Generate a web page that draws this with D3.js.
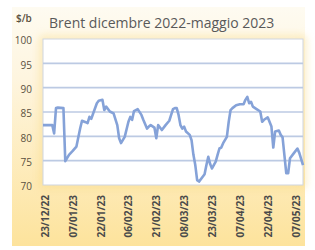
<!DOCTYPE html>
<html><head><meta charset="utf-8">
<script src="https://cdn.jsdelivr.net/npm/d3@7"></script>
<style>html,body{margin:0;padding:0;background:#fff;}svg{display:block;}</style>
</head><body>
<svg id="c" width="315" height="250"></svg>
<script>
const titleText = "Brent dicembre 2022-maggio 2023";
const unitLabel = "$/b";
const yTicks = [70, 75, 80, 85, 90, 95, 100];
const xTickLabels = ["23/12/22","07/01/23","22/01/23","06/02/23","21/02/23","08/03/23","23/03/23","07/04/23","22/04/23","07/05/23"];
const dates = ["2022-12-22","2022-12-27","2022-12-28","2022-12-29","2022-12-30","2023-01-02","2023-01-03","2023-01-05","2023-01-07","2023-01-09","2023-01-11","2023-01-12","2023-01-14","2023-01-15","2023-01-16","2023-01-17","2023-01-18","2023-01-20","2023-01-21","2023-01-23","2023-01-24","2023-01-25","2023-01-27","2023-01-29","2023-01-31","2023-02-01","2023-02-02","2023-02-04","2023-02-06","2023-02-07","2023-02-08","2023-02-09","2023-02-11","2023-02-13","2023-02-14","2023-02-16","2023-02-17","2023-02-18","2023-02-20","2023-02-21","2023-02-22","2023-02-23","2023-02-24","2023-02-26","2023-02-28","2023-03-01","2023-03-02","2023-03-03","2023-03-04","2023-03-05","2023-03-06","2023-03-07","2023-03-08","2023-03-09","2023-03-11","2023-03-12","2023-03-13","2023-03-14","2023-03-15","2023-03-16","2023-03-18","2023-03-19","2023-03-20","2023-03-21","2023-03-22","2023-03-23","2023-03-25","2023-03-26","2023-03-27","2023-03-28","2023-03-29","2023-03-31","2023-04-01","2023-04-02","2023-04-03","2023-04-05","2023-04-07","2023-04-09","2023-04-10","2023-04-11","2023-04-12","2023-04-13","2023-04-14","2023-04-16","2023-04-18","2023-04-19","2023-04-20","2023-04-22","2023-04-24","2023-04-25","2023-04-26","2023-04-28","2023-04-29","2023-04-30","2023-05-02","2023-05-03","2023-05-04","2023-05-06","2023-05-08","2023-05-09","2023-05-11"];
const prices = [82.3,82.3,80.6,85.8,85.9,85.8,74.9,76.2,77.0,77.9,81.6,83.2,82.9,82.7,84.0,83.6,84.7,86.8,87.3,87.5,85.4,86.1,85.1,84.7,82.3,79.6,78.6,79.9,83.0,84.0,83.4,85.2,85.6,84.4,83.4,81.6,82.0,82.3,81.8,79.6,82.3,81.8,81.3,82.3,83.2,84.4,85.6,85.8,85.8,84.4,82.3,81.6,82.0,81.0,80.3,79.2,76.2,74.1,71.0,70.7,71.7,72.2,74.1,75.8,74.3,73.4,74.8,76.2,77.5,77.7,78.6,79.9,83.0,85.4,85.8,86.4,86.6,86.6,87.5,88.1,86.8,87.1,86.1,85.6,85.1,83.0,83.4,83.9,82.0,77.7,81.0,81.2,80.3,79.8,72.4,72.4,75.5,76.5,77.5,76.6,74.1];

const parse = d3.timeParse("%Y-%m-%d");
const parseLbl = d3.timeParse("%d/%m/%y");
const data = dates.map((d,i)=>({date: parse(d), v: prices[i]}));

const svg = d3.select("#c");
const defs = svg.append("defs");
const g1 = defs.append("linearGradient").attr("id","bg").attr("x1",0).attr("y1",0).attr("x2",0).attr("y2",1);
g1.append("stop").attr("offset","0%").attr("stop-color","#fefbf1");
g1.append("stop").attr("offset","30%").attr("stop-color","#fef5df");
g1.append("stop").attr("offset","100%").attr("stop-color","#fde39c");
const blur = defs.append("filter").attr("id","glow").attr("x","-20%").attr("y","-20%").attr("width","140%").attr("height","140%");
blur.append("feGaussianBlur").attr("stdDeviation",4);

const box = {x:12, y:7, w:293, h:239};
svg.append("rect").attr("x",box.x).attr("y",box.y).attr("width",box.w).attr("height",box.h).attr("fill","url(#bg)");

const m = {l:43, t:39, r:303, b:185};
const x = d3.scaleTime().domain([parse("2022-12-22"), parse("2023-05-11")]).range([m.l, m.r]);
const y = d3.scaleLinear().domain([70,100]).range([m.b, m.t]);

// glow around plot area
svg.append("rect").attr("x",m.l).attr("y",m.t).attr("width",m.r-m.l).attr("height",m.b-m.t)
  .attr("fill","none").attr("stroke","#f8d676").attr("stroke-width",5).attr("opacity",0.6).attr("filter","url(#glow)");
svg.append("rect").attr("x",m.l).attr("y",m.t).attr("width",m.r-m.l).attr("height",m.b-m.t)
  .attr("fill","#ffffff").attr("stroke","#cfd5df").attr("stroke-width",1);

// gridlines
svg.append("g").selectAll("line").data(yTicks.filter(t=>t>70 && t<100)).join("line")
  .attr("x1",m.l).attr("x2",m.r).attr("y1",d=>y(d)).attr("y2",d=>y(d))
  .attr("stroke","#bccae3").attr("stroke-width",1.6);

// y axis labels
const yAxis = d3.axisLeft(y).tickValues(yTicks).tickSize(0).tickPadding(0);
const ya = svg.append("g").attr("transform",`translate(32,1.5)`).call(yAxis);
ya.select(".domain").remove();
ya.selectAll("text").attr("font-family","Open Sans, sans-serif").attr("font-size",10).attr("fill","#5a5040").attr("text-anchor","end");

// x axis labels
const xAxis = d3.axisBottom(x).tickValues(xTickLabels.map(parseLbl)).tickSize(0).tickFormat(d3.timeFormat("%d/%m/%y"));
const xa = svg.append("g").attr("transform",`translate(0,${m.b})`).call(xAxis);
xa.select(".domain").remove();
xa.selectAll("text").attr("font-family","Open Sans, sans-serif").attr("font-size",10).attr("font-weight","bold")
  .attr("fill","#4a4a4a").attr("text-anchor","end").attr("transform","rotate(-90)")
  .attr("x",-10).attr("y",0).attr("dy","0.35em");

// line
svg.append("path").datum(data).attr("fill","none").attr("stroke","#85a2d8").attr("stroke-width",2.6)
  .attr("stroke-linejoin","round")
  .attr("d", d3.line().x(d=>x(d.date)).y(d=>y(d.v)));

// title & unit
svg.append("text").attr("x",49).attr("y",28).text(titleText)
  .attr("font-family","Open Sans, sans-serif").attr("font-size",14).attr("fill","#595959");
svg.append("text").attr("x",16).attr("y",22).text(unitLabel)
  .attr("font-family","Open Sans, sans-serif").attr("font-size",10).attr("font-weight","600").attr("fill","#5a5040");
</script>
</body></html>
